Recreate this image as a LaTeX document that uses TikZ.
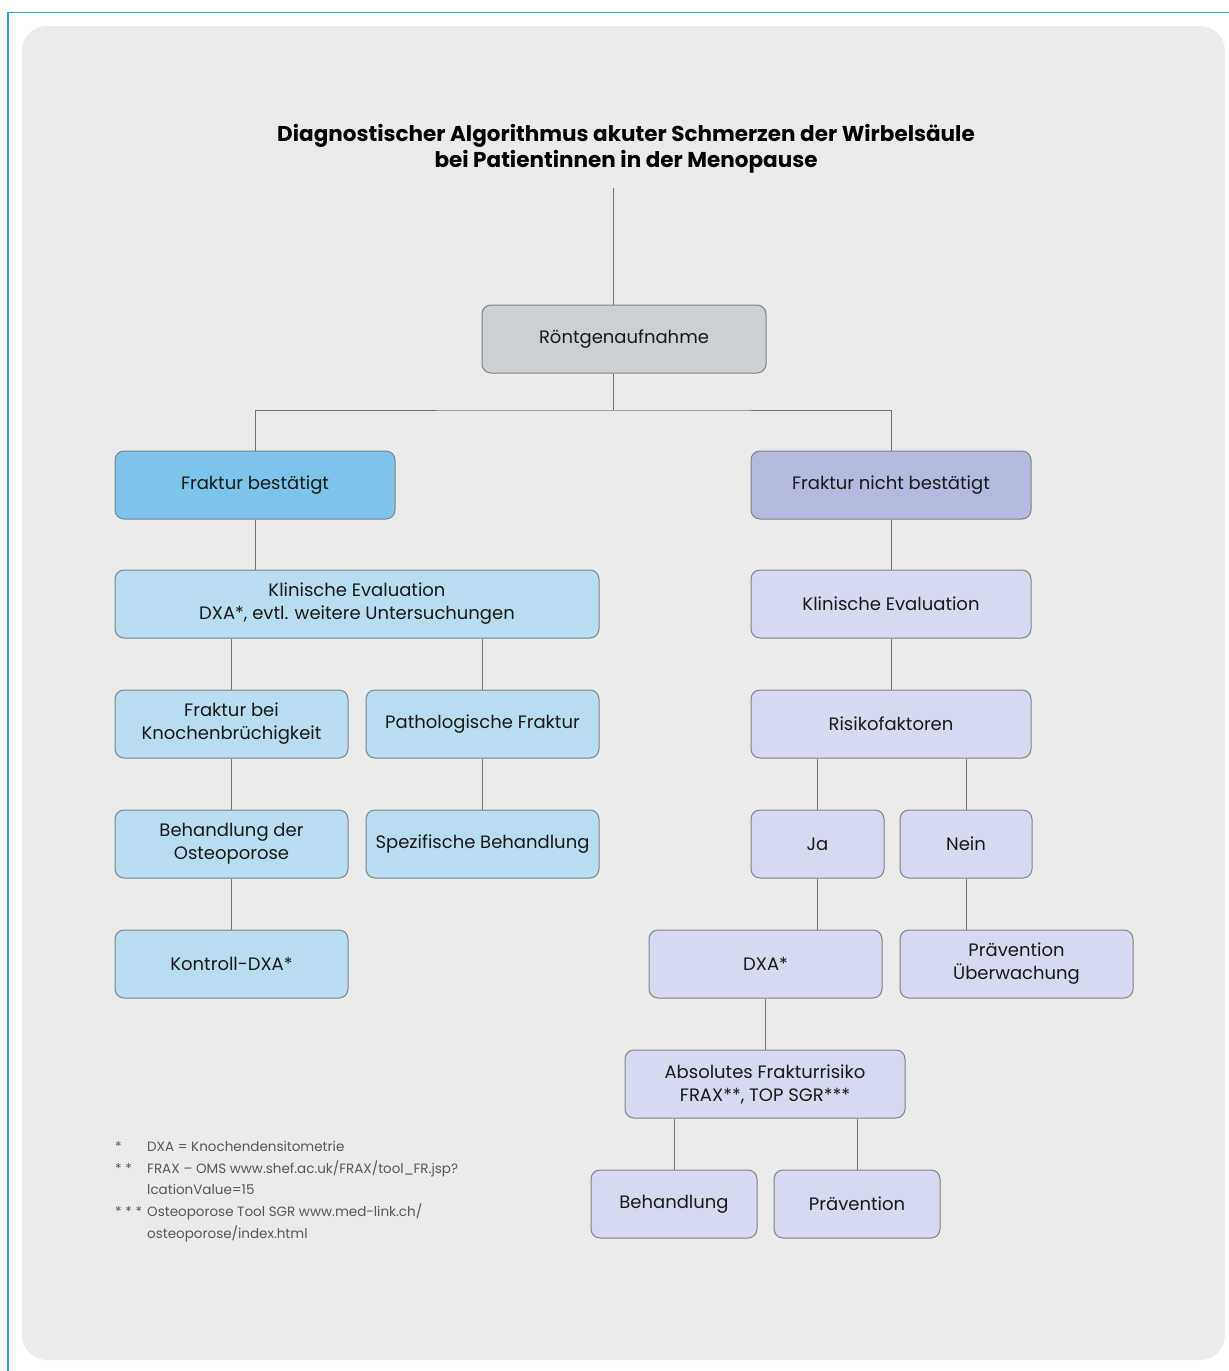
\documentclass[tikz,border=0pt]{standalone}
\usepackage{fontspec}
\setmainfont{Poppins}
\definecolor{bgg}{HTML}{EAEBEC}
\definecolor{frameblue}{HTML}{3A9BD9}
\definecolor{rgfill}{HTML}{CDD0D2}
\definecolor{darkblue}{HTML}{7DC4EA}
\definecolor{lightblue}{HTML}{B8DDF1}
\definecolor{darklav}{HTML}{B3BCE0}
\definecolor{lightlav}{HTML}{D6DAF0}
\definecolor{boxline}{HTML}{808285}
\definecolor{conn}{HTML}{707274}
\definecolor{notegray}{HTML}{555759}
\begin{document}
\begin{tikzpicture}[x=1pt,y=-1pt,
  box/.style={draw=boxline, line width=1pt, rounded corners=9pt, inner sep=0pt,
    align=center, minimum height=68pt, text=black!90,
    font=\fontsize{18}{23}\selectfont},
  wire/.style={draw=conn, line width=1pt},
  note/.style={anchor=base west, inner sep=0pt, text=notegray,
    font=\fontsize{13.5}{16}\selectfont}]
\useasboundingbox (0,0) rectangle (1229,1371);
\fill[bgg, rounded corners=25pt] (22,26) rectangle (1225,1360);
\draw[frameblue, line width=1.6pt] (8,1371) -- (8,12.5) -- (1229,12.5);

\node[align=center, inner sep=0pt, font=\bfseries\fontsize{21.5}{26}\selectfont] (title) at (626,149)
  {Diagnostischer Algorithmus akuter Schmerzen der Wirbelsäule\\bei Patientinnen in der Menopause};

\node[box, fill=rgfill, minimum width=284pt] (rg) at (624,339) {Röntgenaufnahme};
\node[box, fill=darkblue, minimum width=280pt] (fb) at (255,485) {Fraktur bestätigt};
\node[box, fill=darklav, minimum width=280pt] (fnb) at (891,485) {Fraktur nicht bestätigt};
\node[box, fill=lightblue, minimum width=484pt] (ke1) at (357,604) {Klinische Evaluation\\DXA*, evtl. weitere Untersuchungen};
\node[box, fill=lightlav, minimum width=280pt] (ke2) at (891,604) {Klinische Evaluation};
\node[box, fill=lightblue, minimum width=233pt] (fk) at (231.5,724) {Fraktur bei\\Knochenbrüchigkeit};
\node[box, fill=lightblue, minimum width=233pt] (pf) at (482.5,724) {Pathologische Fraktur};
\node[box, fill=lightlav, minimum width=280pt] (rf) at (891,724) {Risikofaktoren};
\node[box, fill=lightblue, minimum width=233pt] (bo) at (231.5,844) {Behandlung der\\Osteoporose};
\node[box, fill=lightblue, minimum width=233pt] (sb) at (482.5,844) {Spezifische Behandlung};
\node[box, fill=lightlav, minimum width=133pt] (ja) at (817.5,844) {Ja};
\node[box, fill=lightlav, minimum width=132pt] (nein) at (966,844) {Nein};
\node[box, fill=lightblue, minimum width=233pt] (kd) at (231.5,964) {Kontroll-DXA*};
\node[box, fill=lightlav, minimum width=233pt] (dxa) at (765.5,964) {DXA*};
\node[box, fill=lightlav, minimum width=233pt] (pu) at (1016.5,964) {Prävention\\Überwachung};
\node[box, fill=lightlav, minimum width=280pt] (afr) at (765,1084) {Absolutes Frakturrisiko\\FRAX**, TOP SGR***};
\node[box, fill=lightlav, minimum width=166pt] (beh) at (674,1204) {Behandlung};
\node[box, fill=lightlav, minimum width=166pt] (prae) at (857,1204) {Prävention};

\coordinate (top) at (613,188);
\coordinate (split) at (613,410);
\draw[wire] (top) -- (top |- rg.north);
\draw[wire] (top |- rg.south) -- (split);
\draw[wire] (fb.north) |- (split) -| (fnb.north);
\draw[wire] (fb.south) -- (fb.south |- ke1.north);
\draw[wire] (fk.north) -- (fk.north |- ke1.south);
\draw[wire] (pf.north) -- (pf.north |- ke1.south);
\draw[wire] (fk.south) -- (bo.north);
\draw[wire] (pf.south) -- (sb.north);
\draw[wire] (bo.south) -- (kd.north);
\draw[wire] (fnb.south) -- (ke2.north);
\draw[wire] (ke2.south) -- (rf.north);
\draw[wire] (ja.north) -- (ja.north |- rf.south);
\draw[wire] (nein.north) -- (nein.north |- rf.south);
\draw[wire] (ja.south) -- (ja.south |- dxa.north);
\draw[wire] (nein.south) -- (nein.south |- pu.north);
\draw[wire] (dxa.south) -- (dxa.south |- afr.north);
\draw[wire] (beh.north) -- (beh.north |- afr.south);
\draw[wire] (prae.north) -- (prae.north |- afr.south);

\node[note] (s1) at (115,1151) {*};
\node[note] (n1) at (147,1151) {DXA = Knochendensitometrie};
\node[note] (s2) at (115,1173) {* *};
\node[note] (n2) at (147,1173) {FRAX – OMS www.shef.ac.uk/FRAX/tool\_FR.jsp?};
\node[note] (n2b) at (147,1194) {lcationValue=15};
\node[note] (s3) at (115,1216) {* * *};
\node[note] (n3) at (147,1216) {Osteoporose Tool SGR www.med-link.ch/};
\node[note] (n3b) at (147,1238) {osteoporose/index.html};
\end{tikzpicture}
\end{document}
